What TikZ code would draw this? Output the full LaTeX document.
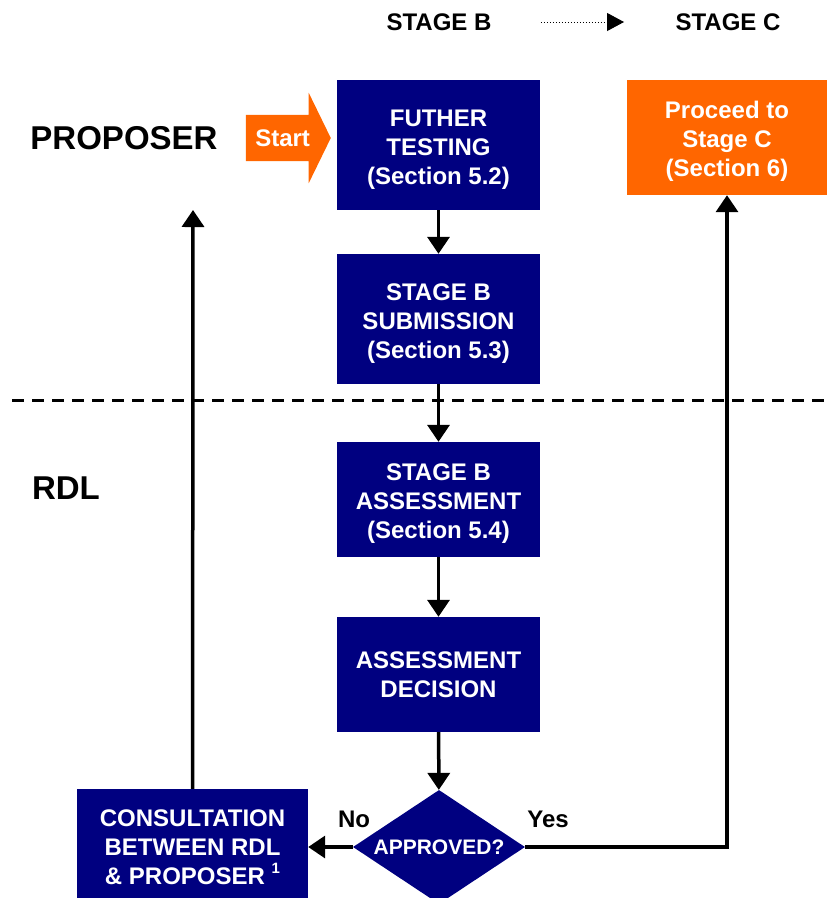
\documentclass[tikz,border=0pt]{standalone}
\usepackage{fontspec}
\setmainfont{Liberation Sans}
\usetikzlibrary{shapes.geometric,shapes.arrows,arrows.meta}
\definecolor{rdlnavy}{HTML}{000080}
\definecolor{rdlorange}{HTML}{FF6600}
\newcommand{\toplift}{\rule{0pt}{25pt}}
\tikzset{
  box/.style={fill=rdlnavy, text=white, align=center, inner sep=0pt,
    minimum width=203pt, font=\fontsize{24}{29}\selectfont\bfseries},
  orangebox/.style={box, fill=rdlorange},
  decision/.style={diamond, fill=rdlnavy, text=white, inner sep=0pt,
    minimum width=172pt, minimum height=114pt, font=\fontsize{21}{25}\selectfont\bfseries},
  flow/.style={line width=3.5pt, -{Triangle[length=17pt,width=22pt]}},
  lbl/.style={font=\fontsize{24}{29}\selectfont\bfseries},
  startarrow/.style={single arrow, fill=rdlorange, text=white, inner xsep=3pt, inner ysep=14.5pt,
    text height=17pt, text depth=0pt, single arrow head extend=22pt, single arrow tip angle=128,
    minimum height=85pt, font=\fontsize{24}{29}\selectfont\bfseries}
}
\begin{document}
\begin{tikzpicture}[x=1pt, y=-1pt]
\useasboundingbox (0,0) rectangle (827,898);
\node (hb) at (439, 22) [lbl] {STAGE B};
\node (hc) at (728, 22) [lbl] {STAGE C};
\node (prop) at (124, 138) [font=\fontsize{33}{38}\selectfont\bfseries] {PROPOSER};
\node (rdl) at (66, 488) [font=\fontsize{33}{38}\selectfont\bfseries] {RDL};

\node (b1) at (438.5, 145) [box, minimum height=130pt] {\toplift FUTHER\\TESTING\\(Section 5.2)};
\node (b2) at (438.5, 319) [box, minimum height=130pt] {\toplift STAGE B\\SUBMISSION\\(Section 5.3)};
\node (b3) at (438.5, 499.5) [box, minimum height=115pt] {\toplift STAGE B\\ASSESSMENT\\(Section 5.4)};
\node (b4) at (438.5, 674.5) [box, minimum height=115pt] {ASSESSMENT\\DECISION};
\node (dec) at (439, 847) [decision] {\makebox[0pt]{APPROVED?}};
\node (cons) at (192.5, 847) [box, minimum width=231pt, minimum height=116pt]
  {CONSULTATION\\BETWEEN RDL\\\& PROPOSER \raisebox{0.45em}{\fontsize{15}{15}\selectfont 1}};
\node (proc) at (727, 137.5) [orangebox, minimum width=200pt, minimum height=115pt]
  {\toplift Proceed to\\Stage C\\(Section 6)};
\node (start) at (331, 138) [startarrow, anchor=tip] {Start};
\coordinate (back) at (193, 210);

\node (no) at (354, 819) [lbl] {No};
\node (yes) at (548, 819) [lbl] {Yes};

\draw[dash pattern=on 12pt off 8pt, line width=3pt] (12, 400) -- (827, 400);
\draw[dotted, line width=1pt, shorten <=46pt, shorten >=48pt, -{Triangle[length=17pt,width=18pt]}] (hb.east) -- (hc.west);

\draw[flow] (b1) -- (b2);
\draw[flow] (b2) -- (b3);
\draw[flow] (b3) -- (b4);
\draw[flow] (b4) -- (dec);
\draw[flow] (dec) -- (cons);
\draw[flow] (dec.east) -| (proc.south);
\draw[flow] (cons) -- (back);
\end{tikzpicture}
\end{document}
